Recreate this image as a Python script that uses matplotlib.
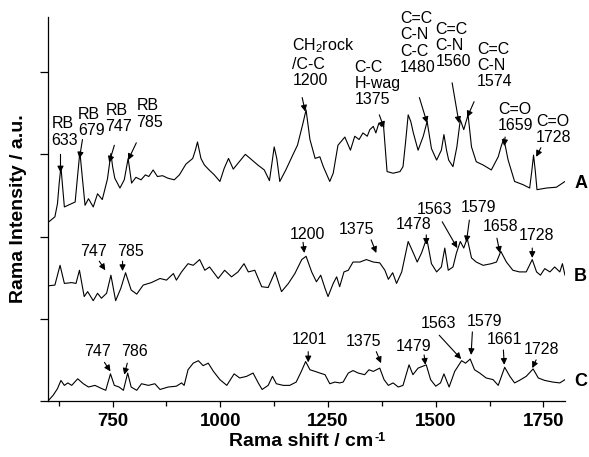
import matplotlib
matplotlib.use("Agg")
import matplotlib.pyplot as plt

plt.rcParams['font.family'] = ['Liberation Sans', 'DejaVu Sans']
plt.rcParams['mathtext.fontset'] = 'custom'
plt.rcParams['mathtext.rm'] = 'Liberation Sans'
plt.rcParams['mathtext.bf'] = 'Liberation Sans:bold'

# ---------------- data ----------------
wA = [600, 616, 622, 626, 630, 634, 638, 663, 668, 674, 680, 686, 694, 705, 715, 726, 738, 746, 750,
      755, 767, 777, 786, 794, 804, 816, 826, 834, 844, 854, 866, 878, 893, 905, 920, 936, 942, 947,
      951, 955, 963, 974, 986, 999, 1009, 1019, 1030, 1044, 1058, 1067, 1087, 1102, 1114, 1120,
      1125, 1131, 1138, 1152, 1168, 1179, 1191, 1199,
      1208, 1220, 1231, 1239, 1254, 1262, 1273, 1289, 1302, 1312, 1322, 1331, 1341, 1347, 1355,
      1361, 1368, 1374, 1378, 1387, 1401, 1417, 1424, 1430, 1436, 1442, 1448, 1459, 1471, 1480,
      1490, 1502, 1513, 1519, 1525, 1530, 1540, 1549, 1557, 1565, 1575, 1583, 1594, 1610, 1629,
      1645, 1652, 1658, 1668, 1683, 1703, 1718, 1723, 1727, 1731, 1735, 1757, 1780, 1800]
iA = [2.17, 2.24, 2.40, 2.65, 2.85, 2.60, 2.36, 2.42, 2.70, 3.03, 2.70, 2.38, 2.46, 2.36, 2.52, 2.45, 2.70, 3.01, 2.85,
      2.71, 2.59, 2.69, 2.95, 2.65, 2.72, 2.69, 2.75, 2.73, 2.81, 2.73, 2.74, 2.71, 2.69, 2.75, 2.88, 2.95, 3.05, 3.15,
      3.05, 2.95, 2.87, 2.81, 2.75, 2.67, 2.83, 2.95, 2.82, 2.91, 3.00, 2.96, 2.87, 2.81, 2.68, 2.90,
      3.09, 2.95, 2.67, 2.81, 2.99, 3.11, 3.36, 3.54,
      3.18, 2.95, 2.97, 2.85, 2.67, 2.77, 3.11, 3.21, 3.05, 3.22, 3.18, 3.26, 3.22, 3.30, 3.34,
      3.26, 3.38, 3.34, 3.40, 2.79, 2.77, 2.79, 2.85, 3.15, 3.48, 3.40, 3.26, 3.05, 3.22, 3.40,
      3.07, 2.93, 3.05, 3.24, 3.05, 2.93, 2.85, 3.09, 3.42, 3.30, 3.48, 3.09, 2.91, 2.87, 2.81,
      2.97, 3.10, 3.19, 2.93, 2.67, 2.63, 2.59, 2.80, 2.99, 2.80, 2.57, 2.59, 2.60, 2.67]

wB = [600, 616, 628, 638, 655, 665, 673, 684, 692, 705, 715, 724, 736, 746, 757, 769, 780, 793, 806,
      821, 840, 860, 875, 891, 898, 910, 925, 937, 952, 964, 975, 995, 1010, 1026, 1041, 1055,
      1065, 1080, 1096, 1111, 1127, 1142, 1158, 1173, 1189, 1199, 1212, 1223, 1233, 1243, 1250,
      1262, 1270, 1277, 1287, 1297, 1308, 1324, 1339, 1355, 1370, 1382, 1390, 1400, 1409, 1421,
      1436, 1448, 1457, 1467, 1479, 1490, 1502, 1513, 1521, 1529, 1540, 1548, 1557, 1565, 1573,
      1583, 1594, 1610, 1629, 1641, 1651, 1664, 1679, 1694, 1710, 1724, 1734, 1743, 1753, 1765,
      1776, 1788, 1794, 1800]
iB = [1.40, 1.41, 1.65, 1.43, 1.44, 1.43, 1.59, 1.27, 1.33, 1.22, 1.31, 1.25, 1.31, 1.53, 1.22, 1.37, 1.56, 1.35, 1.30,
      1.41, 1.44, 1.49, 1.47, 1.55, 1.47, 1.57, 1.67, 1.65, 1.72, 1.59, 1.63, 1.49, 1.59, 1.51, 1.57, 1.67,
      1.57, 1.59, 1.39, 1.38, 1.57, 1.33, 1.43, 1.55, 1.72, 1.76, 1.57, 1.45, 1.53, 1.37, 1.27,
      1.43, 1.51, 1.39, 1.57, 1.59, 1.69, 1.69, 1.72, 1.69, 1.68, 1.59, 1.48, 1.56, 1.43, 1.57,
      1.94, 1.80, 1.69, 1.80, 1.98, 1.67, 1.57, 1.63, 1.86, 1.59, 1.63, 1.80, 1.94, 1.86, 1.98,
      1.74, 1.69, 1.65, 1.67, 1.69, 1.82, 1.69, 1.59, 1.57, 1.57, 1.72, 1.57, 1.53, 1.61, 1.57,
      1.63, 1.57, 1.67, 1.53]

wC = [600, 612, 622, 630, 638, 646, 655, 669, 682, 694, 709, 725, 734, 745, 754, 765, 775, 785, 793,
      806, 817, 833, 848, 860, 879, 898, 910, 916, 925, 937, 949, 960, 972, 984, 999, 1015, 1032,
      1045, 1061, 1076, 1088, 1097, 1111, 1121, 1130, 1146, 1161, 1176, 1188, 1198, 1208, 1220,
      1231, 1243, 1254, 1266, 1277, 1285, 1297, 1308, 1320, 1335, 1345, 1355, 1370, 1380, 1390,
      1401, 1413, 1424, 1438, 1447, 1459, 1478, 1488, 1500, 1511, 1519, 1531, 1544, 1560, 1569,
      1580, 1590, 1602, 1617, 1633, 1645, 1660, 1672, 1683, 1694, 1710, 1726, 1738, 1753, 1772,
      1788, 1800]
iC = [0.00, 0.07, 0.15, 0.25, 0.19, 0.22, 0.19, 0.27, 0.21, 0.17, 0.19, 0.15, 0.13, 0.33, 0.19, 0.17, 0.13, 0.34, 0.17,
      0.13, 0.21, 0.19, 0.21, 0.14, 0.17, 0.18, 0.22, 0.19, 0.38, 0.46, 0.49, 0.43, 0.46, 0.36, 0.26, 0.19, 0.33,
      0.28, 0.30, 0.34, 0.22, 0.14, 0.19, 0.30, 0.21, 0.19, 0.19, 0.23, 0.36, 0.48, 0.38, 0.36,
      0.34, 0.32, 0.21, 0.23, 0.22, 0.23, 0.34, 0.37, 0.34, 0.32, 0.38, 0.36, 0.40, 0.26, 0.19,
      0.22, 0.17, 0.19, 0.44, 0.32, 0.40, 0.44, 0.26, 0.18, 0.22, 0.33, 0.17, 0.36, 0.49, 0.46,
      0.51, 0.38, 0.34, 0.28, 0.26, 0.19, 0.41, 0.30, 0.22, 0.25, 0.30, 0.39, 0.28, 0.25, 0.23,
      0.22, 0.26]

trace_names = ["A", "B", "C"]
xticks_major = [750, 1000, 1250, 1500, 1750]
xticks_minor = [625, 875, 1125, 1375, 1625]

# annotations: (label, text left, text top, arrow tail, arrow tip)
notes = [
    ("RB\n633", 608, 3.46, (629, 3.00), (629, 2.78)),
    ("RB\n679", 670, 3.58, (680, 3.18), (673, 2.95)),
    ("RB\n747", 733, 3.63, (754, 3.11), (742, 2.90)),
    ("RB\n785", 805, 3.68, (805, 3.14), (786, 2.93)),
    ("CH$_2$rock\n/C-C\n1200", 1167, 4.43, (1190, 3.69), (1197, 3.52)),
    ("C-C\nH-wag\n1375", 1311, 4.15, (1369, 3.48), (1380, 3.32)),
    ("C=C\nC-N\nC-C\n1480", 1417, 4.74, (1462, 3.69), (1480, 3.38)),
    ("C=C\nC-N\n1560", 1499, 4.61, (1538, 3.87), (1554, 3.38)),
    ("C=C\nC-N\n1574", 1596, 4.37, (1589, 3.64), (1573, 3.45)),
    ("C=O\n1659", 1645, 3.64, (1661, 3.21), (1659, 3.10)),
    ("C=O\n1728", 1733, 3.49, (1744, 3.08), (1733, 2.97)),
    ("747", 675, 1.91, (719, 1.70), (733, 1.59)),
    ("785", 761, 1.91, (773, 1.70), (773, 1.58)),
    ("1200", 1160, 2.12, (1192, 1.93), (1195, 1.80)),
    ("1375", 1276, 2.18, (1350, 1.96), (1362, 1.80)),
    ("1478", 1406, 2.24, (1478, 2.02), (1478, 1.90)),
    ("1563", 1455, 2.42, (1515, 2.18), (1550, 1.86)),
    ("1579", 1559, 2.45, (1578, 2.20), (1571, 1.93)),
    ("1658", 1608, 2.21, (1642, 1.98), (1649, 1.80)),
    ("1728", 1693, 2.10, (1724, 1.86), (1724, 1.74)),
    ("747", 684, 0.69, (731, 0.47), (745, 0.36)),
    ("786", 770, 0.69, (784, 0.46), (777, 0.32)),
    ("1201", 1165, 0.84, (1204, 0.60), (1204, 0.47)),
    ("1375", 1292, 0.81, (1362, 0.60), (1373, 0.46)),
    ("1479", 1408, 0.76, (1473, 0.56), (1476, 0.44)),
    ("1563", 1466, 1.03, (1508, 0.80), (1559, 0.51)),
    ("1579", 1571, 1.06, (1585, 0.84), (1582, 0.56)),
    ("1661", 1619, 0.84, (1657, 0.62), (1659, 0.44)),
    ("1728", 1705, 0.72, (1733, 0.50), (1724, 0.40)),
]

# ---------------- figure ----------------
fig = plt.figure(figsize=(5.89, 4.57), dpi=100)
ax = fig.add_axes([48 / 589, 1 - 401 / 457, 517 / 589, 384 / 457])

for w, i, name in zip([wA, wB, wC], [iA, iB, iC], trace_names):
    ax.plot(w, i, color="black", lw=0.8)
    ax.text(1821, i[-1] - 0.02, name, fontsize=13, fontweight="bold", ha="left", va="center",
            clip_on=False)

for label, tx, ty, tail, tip in notes:
    ax.text(tx, ty, label, fontsize=11.5, ha="left", va="top", linespacing=1.1, clip_on=False)
    ax.annotate("", xy=tip, xytext=tail,
                arrowprops=dict(arrowstyle="-|>", color="black", lw=0.8,
                                mutation_scale=9, shrinkA=0, shrinkB=0))

ax.set_xlim(600, 1800)
ax.set_ylim(0, 4.67)
ax.set_xticks(xticks_major)
ax.set_xticks(xticks_minor, minor=True)
ax.set_yticks([0, 1, 2, 3, 4])
ax.set_yticklabels([])
for lbl in ax.get_xticklabels():
    lbl.set_fontweight("bold")
ax.tick_params(axis="x", which="major", direction="out", length=4.5, width=0.9, labelsize=13.5, pad=4)
ax.tick_params(axis="x", which="minor", direction="out", length=3.5, width=0.9)
ax.tick_params(axis="y", direction="out", length=5.5, width=0.9)
ax.spines["top"].set_visible(False)
ax.spines["right"].set_visible(False)
ax.spines["left"].set_linewidth(0.9)
ax.spines["bottom"].set_linewidth(0.9)

ax.set_xlabel("Rama shift / cm", fontsize=14, fontweight="bold", labelpad=2)
ax.xaxis.label.set_x(0.49)
ax.set_ylabel("Rama Intensity / a.u.", fontsize=14, fontweight="bold", labelpad=6)

# superscript "-1" with a plain hyphen, placed right after the x label
fig.canvas.draw()
bb = ax.xaxis.label.get_window_extent()
fig.text((bb.x1 + 1) / fig.bbox.width, (bb.y1 + 1) / fig.bbox.height, "-1",
         fontsize=9, fontweight="bold", ha="left", va="top")

fig.savefig("out.png", dpi=100)
